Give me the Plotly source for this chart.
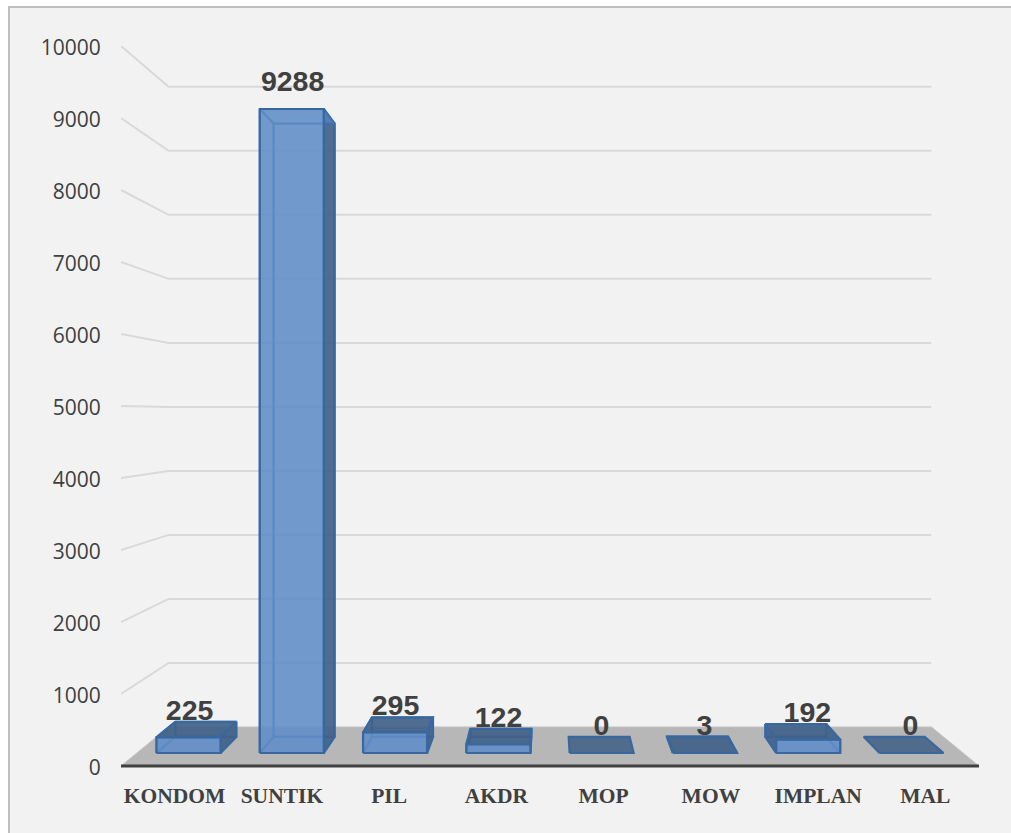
import plotly.graph_objects as go

categories = ["KONDOM", "SUNTIK", "PIL", "AKDR", "MOP", "MOW", "IMPLAN", "MAL"]
values = [225, 9288, 295, 122, 0, 3, 192, 0]
value_ticks = [0, 1000, 2000, 3000, 4000, 5000, 6000, 7000, 8000, 9000, 10000]

# Perspective of the 3-D chart, expressed in axis units
CENTER_X = 3.5
HORIZON_V = 4889
K_BACK_WALL = 0.889
K_BAR_FRONT = 0.963
K_BAR_BACK = 0.917
K_LABEL = 0.96
BAR_HALF = 0.31
LABEL_LIFT = 347


def px(x, k):
    return CENTER_X + (x - CENTER_X) * k


def pv(v, k):
    return HORIZON_V + (v - HORIZON_V) * k


def pt(x, v, k):
    return px(x, k), pv(v, k)


def poly(points, fill, line, width=2.2):
    xs = [p[0] for p in points] + [points[0][0]]
    ys = [p[1] for p in points] + [points[0][1]]
    return go.Scatter(
        x=xs, y=ys, mode="lines", fill="toself", fillcolor=fill,
        line=dict(color=line, width=width), hoverinfo="skip", showlegend=False,
    )


fig = go.Figure()
x_left, x_right = -0.5, 7.5

# Wall and side gridlines
gx, gy = [], []
for t in value_ticks[1:]:
    for (x, k) in [(x_left, 1), (x_left, K_BACK_WALL), (x_right, K_BACK_WALL)]:
        a, b = pt(x, t, k)
        gx.append(a)
        gy.append(b)
    gx.append(None)
    gy.append(None)
fig.add_trace(go.Scatter(x=gx, y=gy, mode="lines", line=dict(color="#d9d9d9", width=2),
                         hoverinfo="skip", showlegend=False))

# Floor
fig.add_trace(poly([pt(x_left, 0, 1), pt(x_right, 0, 1), pt(x_right, 0, K_BACK_WALL), pt(x_left, 0, K_BACK_WALL)],
                   "#b7b7b7", "#c4c4c4", 1))
# Axis line
fig.add_trace(go.Scatter(x=[x_left, x_right], y=[0, 0], mode="lines", line=dict(color="#404040", width=3),
                         hoverinfo="skip", showlegend=False))

EDGE = "#38689f"
INNER = "rgba(60,115,185,0.75)"
LIGHT = "rgba(88,135,195,0.45)"
DARK = "rgba(62,94,132,0.85)"
FRONT = "rgba(98,143,200,0.8)"

for i, v in enumerate(values):
    l, r = i - BAR_HALF, i + BAR_HALF
    f = K_BAR_FRONT
    b = K_BAR_BACK
    faces = []
    if v > 0:
        # back, bottom
        faces.append(([pt(l, v, b), pt(r, v, b), pt(r, 0, b), pt(l, 0, b)], LIGHT, INNER))
        faces.append(([pt(l, 0, f), pt(r, 0, f), pt(r, 0, b), pt(l, 0, b)], LIGHT, INNER))
        # side faces
        right_out = px(r, b) > px(r, f)
        left_out = px(l, b) < px(l, f)
        faces.append(([pt(r, 0, f), pt(r, v, f), pt(r, v, b), pt(r, 0, b)], DARK if right_out else LIGHT, EDGE if right_out else INNER))
        faces.append(([pt(l, 0, f), pt(l, v, f), pt(l, v, b), pt(l, 0, b)], DARK if left_out else LIGHT, EDGE if left_out else INNER))
    # top
    top_is_dark = v < HORIZON_V
    faces.append(([pt(l, v, f), pt(r, v, f), pt(r, v, b), pt(l, v, b)], DARK if top_is_dark else LIGHT, EDGE if top_is_dark else INNER))
    if v > 0:
        faces.append(([pt(l, 0, f), pt(r, 0, f), pt(r, v, f), pt(l, v, f)], FRONT, EDGE))
    for pts, fill, line in faces:
        fig.add_trace(poly(pts, fill, line))

# Data labels
lx = [px(i, K_LABEL) for i in range(len(values))]
ly = [pv(0, K_BAR_FRONT) + v * K_BAR_FRONT + LABEL_LIFT for v in values]
fig.add_trace(go.Scatter(x=lx, y=ly, mode="text", text=[str(v) for v in values],
                         textposition="middle center",
                         textfont=dict(family="Liberation Sans", size=28.5, color="#404040", weight="bold"),
                         hoverinfo="skip", showlegend=False))

W, H = 1011, 833
L, R, T, B = 121, 979, 46, 775
def paper_x(p): return (p - L) / (R - L)
def paper_y(p): return (B - p) / (B - T)

fig.update_layout(
    width=W, height=H, autosize=False,
    margin=dict(l=L, r=W - R, t=T, b=H - B, pad=0),
    paper_bgcolor="#ffffff", plot_bgcolor="rgba(0,0,0,0)",
    showlegend=False,
    xaxis=dict(range=[x_left, x_right], tickmode="array", tickvals=list(range(len(categories))),
               ticktext=categories, showgrid=False, zeroline=False, showline=False,
               ticks="outside", ticklen=1, tickcolor="rgba(0,0,0,0)",
               tickfont=dict(family="Liberation Serif", size=21.5, color="#404040", weight="bold")),
    yaxis=dict(range=[-125, 10000], tickmode="array", tickvals=value_ticks, ticktext=[str(t) for t in value_ticks],
               showgrid=False, zeroline=False, showline=False,
               ticks="outside", ticklen=15, tickcolor="rgba(0,0,0,0)",
               ticklabelshift=2,
               tickfont=dict(family="Open Sans", size=21, color="#404040")),
    shapes=[dict(type="rect", xref="paper", yref="paper", layer="below",
                 x0=paper_x(8), x1=paper_x(W + 2), y0=paper_y(H + 2), y1=paper_y(6),
                 fillcolor="#f2f2f2", line=dict(width=0)),
            dict(type="line", xref="paper", yref="paper", layer="below",
                 x0=paper_x(8), x1=paper_x(W), y0=paper_y(7), y1=paper_y(7),
                 line=dict(color="#bfbfbf", width=2)),
            dict(type="line", xref="paper", yref="paper", layer="below",
                 x0=paper_x(9), x1=paper_x(9), y0=paper_y(6), y1=paper_y(H),
                 line=dict(color="#bfbfbf", width=2))],
)

fig.write_html("out.html", default_width=f"{W}px", default_height=f"{H}px",
               config={"displayModeBar": False},
               post_script="document.body.style.margin='0';")
